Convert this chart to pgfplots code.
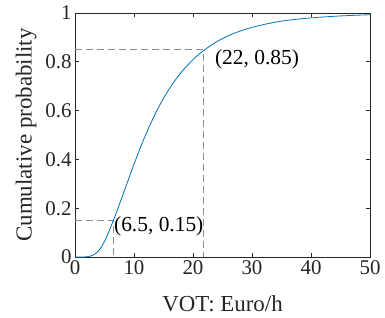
\documentclass[border=0pt]{standalone}
\usepackage{fontspec}
\setmainfont{Liberation Serif}
\usepackage{pgfplots}
\pgfplotsset{compat=1.18}
\definecolor{mblue}{rgb}{0,0.447,0.741}
\definecolor{axgray}{rgb}{0.15,0.15,0.15}
\definecolor{dgray}{rgb}{0.55,0.55,0.55}
\begin{document}
\begin{tikzpicture}
\begin{axis}[
  scale only axis,
  width=295bp, height=244bp,
  xmin=0, xmax=50, ymin=0, ymax=1,
  xtick={0,10,20,30,40,50},
  xticklabels={0,10,20,30,40,50},
  ytick={0,0.2,0.4,0.6,0.8,1},
  yticklabels={0,0.2,0.4,0.6,0.8,1},
  tick label style={font=\fontsize{21}{24}\selectfont, text=axgray},
  label style={font=\fontsize{23}{27}\selectfont, text=axgray},
  axis line style={axgray, line width=0.6bp},
  major tick style={axgray, line width=0.6bp},
  major tick length=4bp,
  tick align=inside,
  xlabel={VOT: Euro/h},
  ylabel={Cumulative probability},
  xlabel style={at={(axis description cs:0.5,-0.225)}, anchor=base},
  ylabel style={at={(axis description cs:-0.166,0.5)}, anchor=center, rotate=0},
]
\addplot[dgray, line width=0.8bp, dash pattern=on 7bp off 4bp] coordinates {(0,0.15) (6.45,0.15) (6.45,0)};
\addplot[dgray, line width=0.8bp, dash pattern=on 7bp off 4bp] coordinates {(0,0.85) (21.7,0.85) (21.7,0)};
\addplot[mblue, line width=0.8bp, smooth] coordinates {
(0,0) (1,0) (1.5,0.0001) (2,0.001) (2.5,0.003) (3,0.007) (3.5,0.014) (4,0.026) (4.5,0.042) (5,0.064)
(5.5,0.090) (6,0.119) (6.5,0.15) (7,0.181) (8,0.247) (9,0.314) (10,0.38) (11,0.444)
(12,0.502) (13,0.556) (14,0.606) (15,0.650) (16,0.690) (17,0.725) (18,0.757)
(19,0.784) (20,0.809) (21,0.831) (22,0.85) (24,0.882) (26,0.907) (28,0.926)
(30,0.941) (33,0.958) (36,0.970) (40,0.980) (45,0.988) (50,0.993)
};
\node[anchor=west, inner sep=0pt, font=\fontsize{21.5}{25}\selectfont, text=black] at (axis cs:6.6,0.127) {(6.5, 0.15)};
\node[anchor=west, inner sep=0pt, font=\fontsize{21.5}{25}\selectfont, text=black] at (axis cs:23.7,0.81) {(22, 0.85)};
\end{axis}
\pgfresetboundingbox
\useasboundingbox ([shift={(-75bp,-61bp)}]current axis.south west) rectangle ([shift={(15bp,13bp)}]current axis.north east);
\end{tikzpicture}
\end{document}
